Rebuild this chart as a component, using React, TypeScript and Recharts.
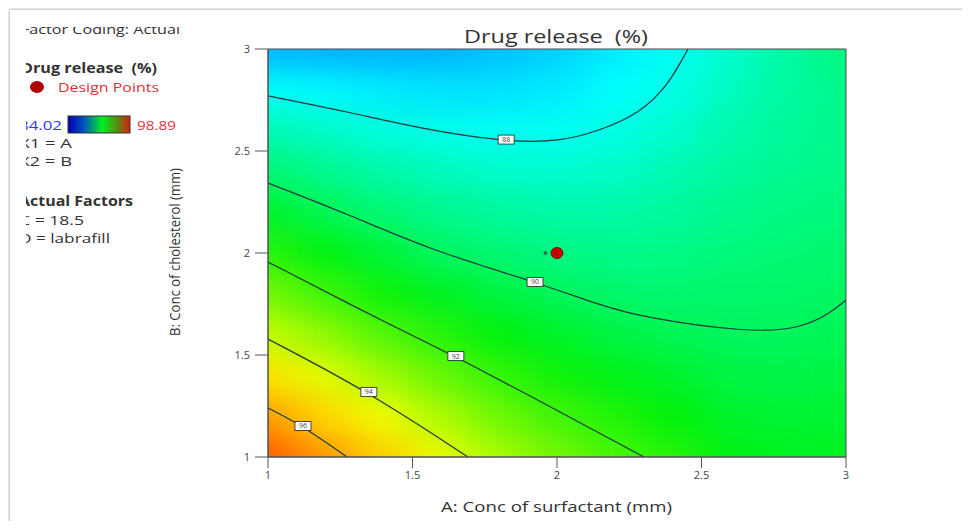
import React from 'react';
import { ComposedChart, XAxis, YAxis, ReferenceArea, Line, Scatter } from 'recharts';

// Factor levels of the read-off grid (A: surfactant, B: cholesterol)
const factorA = [1, 1.2, 1.4, 1.6, 1.8, 2, 2.2, 2.4, 2.6, 2.8, 3];
const factorB = [1, 1.2, 1.4, 1.6, 1.8, 2, 2.2, 2.4, 2.6, 2.8, 3];

// Drug release (%); one row per B level (B = 1 first), columns follow factorA
const releaseGrid = [
  [97.5, 96.4, 95.47, 94.4, 93.5, 92.8, 92.23, 91.75, 91.1, 90.9, 90.9],
  [96.3, 95.26, 94.38, 93.48, 92.65, 92.07, 91.61, 91.2, 90.7, 90.6, 90.65],
  [95.05, 94.16, 93.34, 92.58, 91.88, 91.4, 91.0, 90.7, 90.35, 90.3, 90.4],
  [93.88, 93.1, 92.3, 91.69, 91.15, 90.74, 90.38, 90.15, 90.03, 90.06, 90.15],
  [92.83, 92.03, 91.37, 90.84, 90.41, 90.07, 89.83, 89.77, 89.83, 89.88, 89.97],
  [91.77, 91.09, 90.5, 89.99, 89.72, 89.5, 89.39, 89.44, 89.6, 89.7, 89.8],
  [90.74, 90.15, 89.68, 89.32, 89.09, 88.94, 88.95, 89.1, 89.35, 89.5, 89.6],
  [89.73, 89.3, 88.94, 88.65, 88.46, 88.39, 88.51, 88.77, 89.1, 89.3, 89.45],
  [88.8, 88.47, 88.19, 87.98, 87.86, 87.88, 88.07, 88.43, 88.85, 89.15, 89.4],
  [87.8, 87.6, 87.42, 87.3, 87.3, 87.42, 87.7, 88.05, 88.6, 89.05, 89.45],
  [86.6, 86.5, 86.5, 86.55, 86.75, 87.0, 87.4, 87.85, 88.4, 89.0, 89.6],
];

const axisTicks = [1, 1.5, 2, 2.5, 3];

// Contour lines (A, B)
const contour88 = [
  { x: 1, y: 2.77 }, { x: 1.284, y: 2.69 }, { x: 1.526, y: 2.61 }, { x: 1.82, y: 2.545 },
  { x: 2.01, y: 2.545 }, { x: 2.149, y: 2.6 }, { x: 2.287, y: 2.686 }, { x: 2.384, y: 2.82 },
  { x: 2.453, y: 3 },
];
const contour90 = [
  { x: 1, y: 2.343 }, { x: 1.284, y: 2.186 }, { x: 1.561, y: 2.015 }, { x: 1.924, y: 1.858 },
  { x: 2.149, y: 1.745 }, { x: 2.287, y: 1.686 }, { x: 2.668, y: 1.608 }, { x: 2.85, y: 1.632 },
  { x: 2.95, y: 1.71 }, { x: 3, y: 1.77 },
];
const contour92 = [{ x: 1, y: 1.956 }, { x: 1.446, y: 1.63 }, { x: 1.65, y: 1.495 }, { x: 2.301, y: 1 }];
const contour94 = [{ x: 1, y: 1.578 }, { x: 1.349, y: 1.319 }, { x: 1.692, y: 1 }];
const contour96 = [{ x: 1, y: 1.24 }, { x: 1.121, y: 1.152 }, { x: 1.273, y: 1 }];
const contourSeries = [contour88, contour90, contour92, contour94, contour96];

const contourLabels = [
  { x: 1.824, y: 2.556, label: '88' },
  { x: 1.924, y: 1.858, label: '90' },
  { x: 1.65, y: 1.495, label: '92' },
  { x: 1.349, y: 1.319, label: '94' },
  { x: 1.121, y: 1.152, label: '96' },
];
const designPoints = [{ x: 2, y: 2 }];
const replicateMarks = [{ x: 1.96, y: 2 }];

// Colour scale stops (value, rgb): blue 84.02 -> cyan -> green -> yellow -> red 98.89
const colorStops: [number, number[]][] = [
  [84.02, [0, 0, 255]],
  [87.7, [0, 255, 255]],
  [91.2, [0, 242, 10]],
  [94.6, [255, 255, 0]],
  [98.89, [255, 0, 0]],
];

function heatColor(v: number): string {
  const lo = colorStops[0][0];
  const hi = colorStops[colorStops.length - 1][0];
  const t = Math.max(lo, Math.min(hi, v));
  for (let k = 1; k < colorStops.length; k++) {
    const [v1, c1] = colorStops[k];
    const [v0, c0] = colorStops[k - 1];
    if (t <= v1) {
      const f = (t - v0) / (v1 - v0);
      const c = c0.map((ch, n) => Math.round(ch + (c1[n] - ch) * f));
      return `rgb(${c[0]},${c[1]},${c[2]})`;
    }
  }
  return 'rgb(255,0,0)';
}

function span(vals: number[], i: number): [number, number] {
  const lo = i === 0 ? vals[0] : (vals[i - 1] + vals[i]) / 2;
  const hi = i === vals.length - 1 ? vals[i] : (vals[i] + vals[i + 1]) / 2;
  return [lo, hi];
}

const cells: { x1: number; x2: number; y1: number; y2: number; fill: string }[] = [];
factorB.forEach((b, j) => {
  factorA.forEach((a, i) => {
    const [x1, x2] = span(factorA, i);
    const [y1, y2] = span(factorB, j);
    cells.push({ x1, x2, y1, y2, fill: heatColor(releaseGrid[j][i]) });
  });
});

const FONT = "'Open Sans', 'Noto Sans', 'DejaVu Sans', sans-serif";
const MARGIN = { top: 49, right: 124, bottom: 12, left: 168 };

const ContourTag = (props: any) => {
  const { cx, cy, payload } = props;
  return (
    <g>
      <rect x={cx - 8} y={cy - 4.5} width={16} height={9} fill="#ffffff" stroke="#333" strokeWidth={0.9} />
      <text x={cx} y={cy + 2.5} textAnchor="middle" fontSize={7} fill="#444" fontFamily={FONT}>
        {payload.label}
      </text>
    </g>
  );
};

const DesignDot = (props: any) => (
  <ellipse cx={props.cx} cy={props.cy} rx={6} ry={5.5} fill="#c40000" stroke="#6a0000" strokeWidth={0.8} />
);
const ReplicateDot = (props: any) => <circle cx={props.cx} cy={props.cy} r={2} fill="#2f7a4a" />;

export default function App() {
  return (
    <div style={{ position: 'relative', width: 970, height: 529, margin: -8, overflow: 'hidden', background: '#fff' }}>
      <div
        style={{
          position: 'absolute', left: 10, top: 10, width: 1000, height: 600, background: '#fff',
          boxShadow: '-1px -1px 3px rgba(0,0,0,0.28)',
        }}
      />
      <svg width={0} height={0} style={{ position: 'absolute' }}>
        <defs>
          <filter id="heatSmooth" x="0" y="0" width="1" height="1" colorInterpolationFilters="sRGB">
            <feGaussianBlur in="SourceGraphic" stdDeviation="20 14" result="blurred" />
            <feComponentTransfer in="blurred" result="opaque">
              <feFuncA type="linear" slope="0" intercept="1" />
            </feComponentTransfer>
            <feComponentTransfer in="SourceAlpha" result="mask">
              <feFuncA type="discrete" tableValues="0 1" />
            </feComponentTransfer>
            <feComposite in="opaque" in2="mask" operator="in" />
          </filter>
        </defs>
      </svg>
      {/* heat surface, smoothed */}
      <div style={{ position: 'absolute', left: 0, top: 0, width: 970, height: 529, filter: 'url(#heatSmooth)' }}>
        <ComposedChart width={970} height={529} margin={MARGIN}>
          <XAxis type="number" dataKey="x" domain={[1, 3]} allowDataOverflow height={60} tick={false} tickLine={false} axisLine={false} />
          <YAxis type="number" dataKey="y" domain={[1, 3]} allowDataOverflow width={100} tick={false} tickLine={false} axisLine={false} />
          {cells.map((c, k) => (
            <ReferenceArea key={k} x1={c.x1} x2={c.x2} y1={c.y1} y2={c.y2} fill={c.fill} fillOpacity={1} stroke="none" />
          ))}
        </ComposedChart>
      </div>
      {/* axes, contours and points */}
      <div style={{ position: 'absolute', left: 0, top: 0 }}>
        <ComposedChart width={970} height={529} margin={MARGIN} style={{ fontFamily: FONT }}>
          <XAxis
            type="number"
            dataKey="x"
            domain={[1, 3]}
            ticks={axisTicks}
            allowDataOverflow
            height={60}
            tickSize={11}
            tickMargin={3}
            stroke="#555"
            tick={{ fontSize: 11, fill: '#444' }}
          />
          <YAxis
            type="number"
            dataKey="y"
            domain={[1, 3]}
            ticks={axisTicks}
            allowDataOverflow
            width={100}
            tickSize={13}
            tickMargin={5}
            stroke="#555"
            tick={{ fontSize: 11, fill: '#444' }}
          />
          <ReferenceArea x1={1} x2={3} y1={1} y2={3} fill="none" stroke="#4a4a4a" strokeWidth={1} />
          {contourSeries.map((d, k) => (
            <Line
              key={k}
              data={d}
              dataKey="y"
              type="basis"
              stroke="#1e3b3b"
              strokeWidth={1.2}
              dot={false}
              activeDot={false}
              isAnimationActive={false}
            />
          ))}
          <Scatter data={contourLabels} shape={ContourTag} isAnimationActive={false} />
          <Scatter data={replicateMarks} shape={ReplicateDot} isAnimationActive={false} />
          <Scatter data={designPoints} shape={DesignDot} isAnimationActive={false} />
        </ComposedChart>
      </div>
      <svg width={970} height={529} style={{ position: 'absolute', left: 0, top: 0, pointerEvents: 'none' }} fontFamily={FONT}>
        <defs>
          <linearGradient id="legendBar" x1="0" x2="1" y1="0" y2="0">
            <stop offset="0" stopColor="#0000b0" />
            <stop offset="0.25" stopColor="#0050c0" />
            <stop offset="0.55" stopColor="#00f020" />
            <stop offset="0.8" stopColor="#5a8a10" />
            <stop offset="1" stopColor="#e01808" />
          </linearGradient>
          <clipPath id="legendClip">
            <rect x={26} y={27} width={200} height={230} />
          </clipPath>
        </defs>
        <text x={464} y={43} fontSize={18} fill="#333" textLength={184} lengthAdjust="spacingAndGlyphs" style={{ whiteSpace: 'pre' }}>
          Drug release  (%)
        </text>
        <text x={441} y={512} fontSize={15} fill="#333" textLength={231} lengthAdjust="spacingAndGlyphs">
          A: Conc of surfactant (mm)
        </text>
        <text transform="translate(180,336) rotate(-90)" x={0} y={0} fontSize={14} fill="#333" textLength={168} lengthAdjust="spacingAndGlyphs">
          B: Conc of cholesterol (mm)
        </text>
        <g clipPath="url(#legendClip)" fontSize={13.5} fill="#333">
          <text x={21} y={34} textLength={159} lengthAdjust="spacingAndGlyphs">Factor Coding: Actual</text>
          <text x={21} y={73} fontWeight="bold" textLength={136} lengthAdjust="spacingAndGlyphs" style={{ whiteSpace: 'pre' }}>Drug release  (%)</text>
          <ellipse cx={37} cy={87} rx={7} ry={6} fill="#b00000" />
          <text x={58} y={92} fill="#d8303c" textLength={101} lengthAdjust="spacingAndGlyphs">Design Points</text>
          <text x={19} y={130} fill="#3434f0" textLength={43} lengthAdjust="spacingAndGlyphs">84.02</text>
          <rect x={68} y={116} width={62} height={17} fill="url(#legendBar)" stroke="#333" strokeWidth={1} />
          <text x={137} y={130} fill="#e8323e" textLength={39} lengthAdjust="spacingAndGlyphs">98.89</text>
          <text x={19} y={148} textLength={53} lengthAdjust="spacingAndGlyphs">X1 = A</text>
          <text x={19} y={166} textLength={53} lengthAdjust="spacingAndGlyphs">X2 = B</text>
          <text x={19} y={206} fontWeight="bold" textLength={114} lengthAdjust="spacingAndGlyphs">Actual Factors</text>
          <text x={19} y={225} textLength={65} lengthAdjust="spacingAndGlyphs">C = 18.5</text>
          <text x={19} y={243} textLength={91} lengthAdjust="spacingAndGlyphs">D = labrafill</text>
        </g>
      </svg>
    </div>
  );
}
